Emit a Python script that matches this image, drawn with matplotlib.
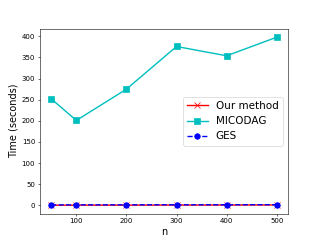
import numpy as np
import matplotlib
matplotlib.use("Agg")
import matplotlib.pyplot as plt

n = [50, 100, 200, 300, 400, 500]
ours = [0.3, 0.4, 0.5, 0.6, 0.7, 0.8]
micodag = [252, 201, 275, 376, 354, 398]
ges = [1.0, 1.1, 1.2, 1.3, 1.4, 1.5]

fig = plt.figure(figsize=(6.4, 4.8), dpi=50)
plt.plot(n, ours, 'r-x', label='Our method', lw=2, ms=8)
plt.plot(n, micodag, 'c-s', label='MICODAG', lw=2, ms=8)
plt.plot(n, ges, 'b--o', label='GES', lw=2, ms=8)
plt.xlabel('n', fontsize=14)
plt.ylabel('Time (seconds)', fontsize=14)
plt.legend(fontsize=15)
plt.savefig('out.png', dpi=50)
